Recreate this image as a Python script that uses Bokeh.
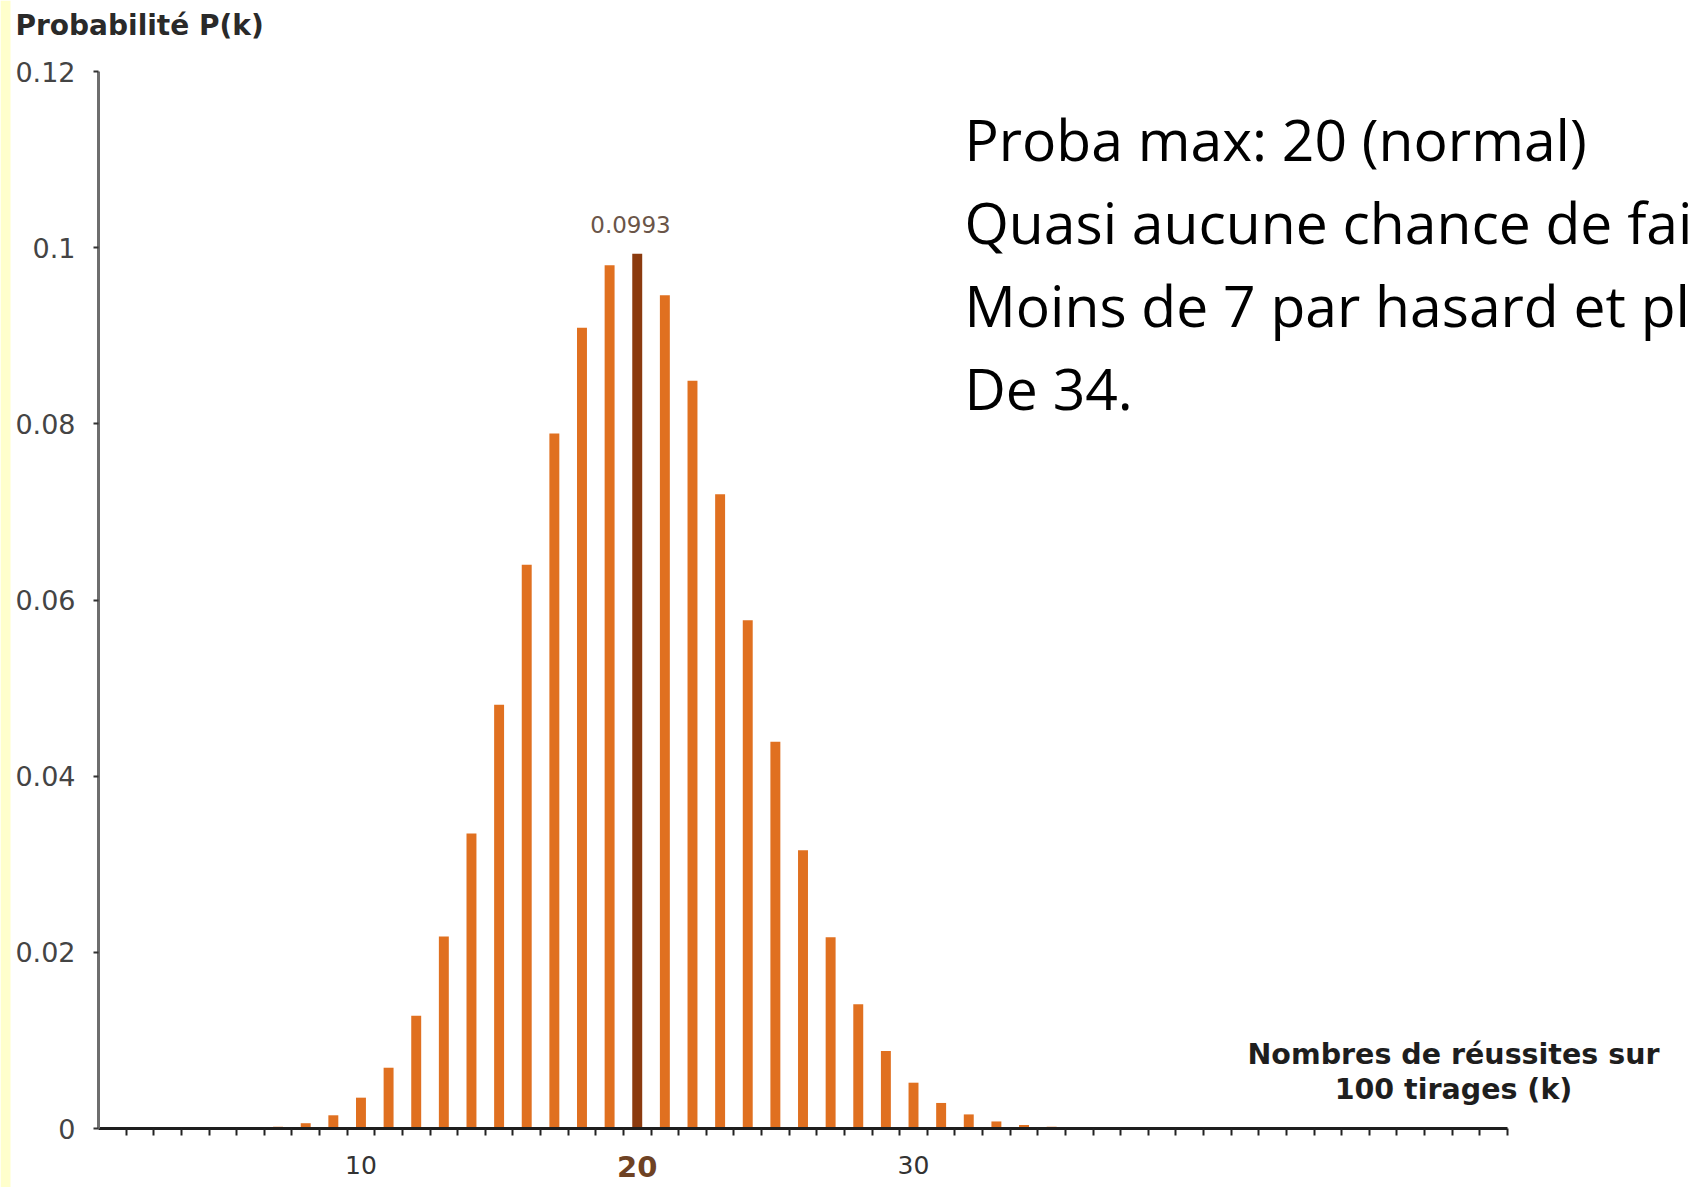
from bokeh.plotting import figure
from bokeh.models import Range1d, FixedTicker, Label, ColumnDataSource, BoxAnnotation
from bokeh.embed import file_html
from bokeh.resources import INLINE

# ---- data ----
k_values = [7, 8, 9, 10, 11, 12, 13, 14, 15, 16, 17, 18, 19, 20, 21,
            22, 23, 24, 25, 26, 27, 28, 29, 30, 31, 32, 33, 34, 35]
probabilities = [0.0002, 0.0006, 0.0015, 0.0035, 0.0069, 0.0128, 0.0218, 0.0335,
                 0.0481, 0.0640, 0.0789, 0.0909, 0.0980, 0.0993, 0.0946, 0.0849,
                 0.0720, 0.0577, 0.0439, 0.0316, 0.0217, 0.0141, 0.0088, 0.0052,
                 0.0029, 0.0016, 0.0008, 0.0004, 0.0002]
highlight_k = 20
peak_label = "0.0993"

y_ticks = [0, 0.02, 0.04, 0.06, 0.08, 0.1, 0.12]
y_tick_labels = ["0", "0.02", "0.04", "0.06", "0.08", "0.1", "0.12"]
x_ticks = [10, 20, 30]
x_tick_labels = ["10", "20", "30"]

y_title = "Probabilité P(k)"
x_title_lines = ["Nombres de réussites sur", "100 tirages (k)"]
note_lines = ["Proba max: 20 (normal)",
              "Quasi aucune chance de fai",
              "Moins de 7 par hasard et pl",
              "De 34."]

# ---- layout (canvas pixels) ----
W, H = 1696, 1187
AX_L, AX_R = 98, 1507      # x = 0.5 .. 51.5
AX_T, AX_B = 71, 1128      # y = 0.12 .. 0
XA, XB = 0.5, 51.5
YA, YB = 0.0, 0.12
ppx = (AX_R - AX_L) / (XB - XA)
ppy = (AX_B - AX_T) / (YB - YA)

def dx(px):
    return XA + (px - AX_L) / ppx

def dy(py):
    return YA + (AX_B - py) / ppy

p = figure(width=W, height=H, output_backend="svg", toolbar_location=None,
           x_range=Range1d(dx(0), dx(W)), y_range=Range1d(dy(H), dy(0)),
           min_border_left=0, min_border_right=0,
           min_border_top=0, min_border_bottom=0)
p.outline_line_color = None
p.grid.visible = False
p.background_fill_color = "white"
p.border_fill_color = "white"

# pale yellow strip at the left edge
p.add_layout(BoxAnnotation(left=dx(0), right=dx(10), fill_color="#FFFFCC",
                           fill_alpha=1.0, line_color=None))

colors = ["#8B3A0E" if k == highlight_k else "#E07020" for k in k_values]
src = ColumnDataSource(dict(k=k_values, p=probabilities, c=colors))
p.vbar(x="k", top="p", width=0.36, source=src, fill_color="c", line_color=None)

# y axis
ya = p.yaxis[0]
ya.fixed_location = XA
ya.bounds = (YA, YB)
ya.ticker = FixedTicker(ticks=y_ticks)
ya.major_label_overrides = {t: s for t, s in zip(y_ticks, y_tick_labels)}
ya.axis_line_color = "#6e6e6e"
ya.axis_line_width = 3
ya.major_tick_out = 5
ya.major_tick_in = 0
ya.major_tick_line_color = "#333333"
ya.major_tick_line_width = 2
ya.minor_tick_line_color = None
ya.major_label_standoff = 18
ya.major_label_text_font = "DejaVu Sans"
ya.major_label_text_font_size = "27px"
ya.major_label_text_color = "#444444"

# x axis
xa = p.xaxis[0]
xa.fixed_location = YA
xa.bounds = (XA, XB)
xa.ticker = FixedTicker(ticks=x_ticks, minor_ticks=[i + 0.5 for i in range(1, 52)])
xa.major_label_overrides = {t: (s if t != highlight_k else "") for t, s in zip(x_ticks, x_tick_labels)}
xa.axis_line_color = "#1e1e1e"
xa.axis_line_width = 3
xa.major_tick_out = 0
xa.major_tick_in = 0
xa.major_tick_line_color = None
xa.minor_tick_out = 7
xa.minor_tick_in = 0
xa.minor_tick_line_color = "#222222"
xa.minor_tick_line_width = 2
xa.major_label_standoff = 20
xa.major_label_text_font = "DejaVu Sans"
xa.major_label_text_font_size = "25px"
xa.major_label_text_color = "#333333"

# highlighted "20" tick label
p.add_layout(Label(x=highlight_k, y=dy(1166), text=x_tick_labels[x_ticks.index(highlight_k)],
                   text_font="DejaVu Sans", text_font_style="bold", text_font_size="29px",
                   text_color="#6e4224", text_align="center", text_baseline="middle"))

# peak value label
p.add_layout(Label(x=dx(630), y=dy(224), text=peak_label,
                   text_font="DejaVu Sans", text_font_size="23px",
                   text_color="#6a5548", text_align="center", text_baseline="middle"))

# y title
p.add_layout(Label(x=dx(15), y=dy(25), text=y_title,
                   text_font="DejaVu Sans", text_font_style="bold", text_font_size="28px",
                   text_color="#2a2a2a", text_align="left", text_baseline="middle"))

# x title (two lines)
for i, line in enumerate(x_title_lines):
    p.add_layout(Label(x=dx(1453), y=dy(1054 + 35 * i), text=line,
                       text_font="DejaVu Sans", text_font_style="bold", text_font_size="28.5px",
                       text_color="#1e1e1e", text_align="center", text_baseline="alphabetic"))

# note text
for i, line in enumerate(note_lines):
    p.add_layout(Label(x=dx(964), y=dy(138 + 83 * i), text=line,
                       text_font="Open Sans", text_font_size="57px",
                       text_color="#000000", text_align="left", text_baseline="alphabetic"))

open("out.html", "w").write(file_html(p, INLINE))
